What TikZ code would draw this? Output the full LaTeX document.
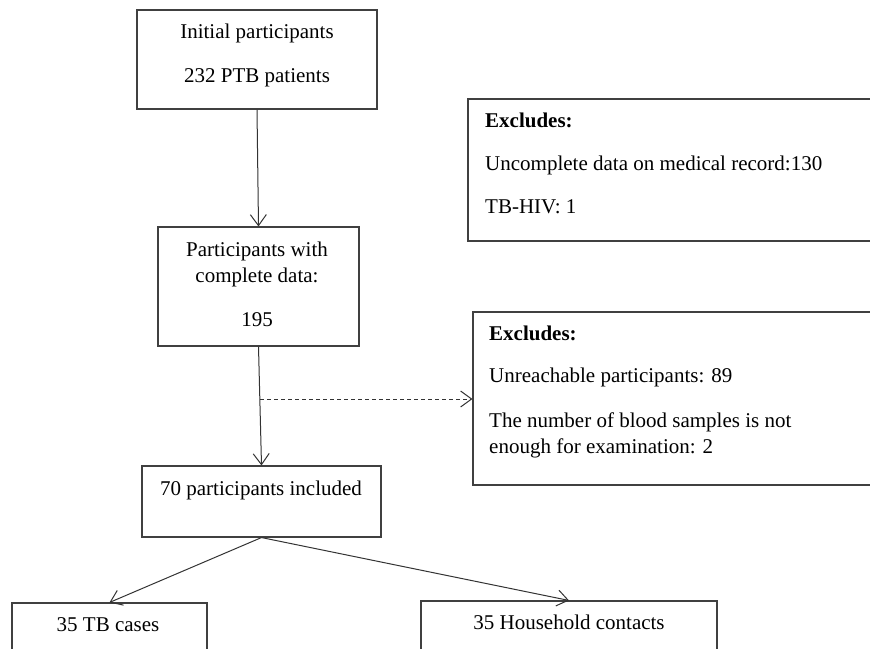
\documentclass[tikz,border=0pt]{standalone}
\usepackage{fontspec}
\setmainfont{Liberation Serif}
\usetikzlibrary{arrows.meta}
\begin{document}
\begin{tikzpicture}[x=1pt,y=-1pt,
  box/.style={draw=black!75,line width=1.1pt,rectangle,inner sep=0pt},
  txt/.style={inner sep=0pt,anchor=base,font=\fontsize{21}{25}\selectfont},
  ltxt/.style={inner sep=0pt,anchor=base west,font=\fontsize{21}{25}\selectfont},
  conn/.style={draw=black!80,line width=1pt,-{Straight Barb[length=11pt,width=16pt]}},
  dconn/.style={conn,dash pattern=on 4pt off 3pt}]
\useasboundingbox (0,0) rectangle (870,648);
\clip (0,0) rectangle (870,648);
% boxes
\node[box,minimum width=240pt,minimum height=99pt] (b1) at (257,59.5) {};
\node[box,minimum width=201pt,minimum height=119pt] (b2) at (258.5,286.5) {};
\node[box,minimum width=432pt,minimum height=142pt] (b3) at (684,170) {};
\node[box,minimum width=427pt,minimum height=173pt] (b4) at (686.5,398.5) {};
\node[box,minimum width=239pt,minimum height=71pt] (b5) at (261.5,501.5) {};
\node[box,minimum width=195pt,minimum height=70pt] (tb) at (109.5,638) {};
\node[box,minimum width=296pt,minimum height=70pt] (hh) at (569,636) {};
% texts
\node[txt] (t1a) at (257,38) {Initial participants};
\node[txt] (t1b) at (257,82) {232 PTB patients};
\node[txt] (t2a) at (257,256) {Participants with};
\node[txt] (t2b) at (257,282) {complete data:};
\node[txt] (t2c) at (257,326) {195};
\node[ltxt] (t3a) at (485,127) {\bfseries Excludes:};
\node[ltxt] (t3b) at (485,170) {Uncomplete data on medical record:130};
\node[ltxt] (t3c) at (485,213) {TB-HIV: 1};
\node[ltxt] (t4a) at (489,340) {\bfseries Excludes:};
\node[ltxt] (t4b) at (489,382) {Unreachable participants: 89};
\node[ltxt] (t4c) at (489,427) {The number of blood samples is not};
\node[ltxt] (t4d) at (489,453) {enough for examination: 2};
\node[txt] (t5) at (261,495) {70 participants included};
\node[txt] (t6) at (108,631) {35 TB cases};
\node[txt] (t7) at (569,629) {35 Household contacts};
% connectors
\draw[conn] (b1.south) -- (b2.north);
\draw[conn] (b2.south) -- (b5.north);
\coordinate (d) at (260,399);
\draw[dconn] (d) -- (d -| b4.west);
\draw[conn] (b5.south) -- (tb.north);
\draw[conn] (b5.south) -- (hh.north);
\end{tikzpicture}
\end{document}
